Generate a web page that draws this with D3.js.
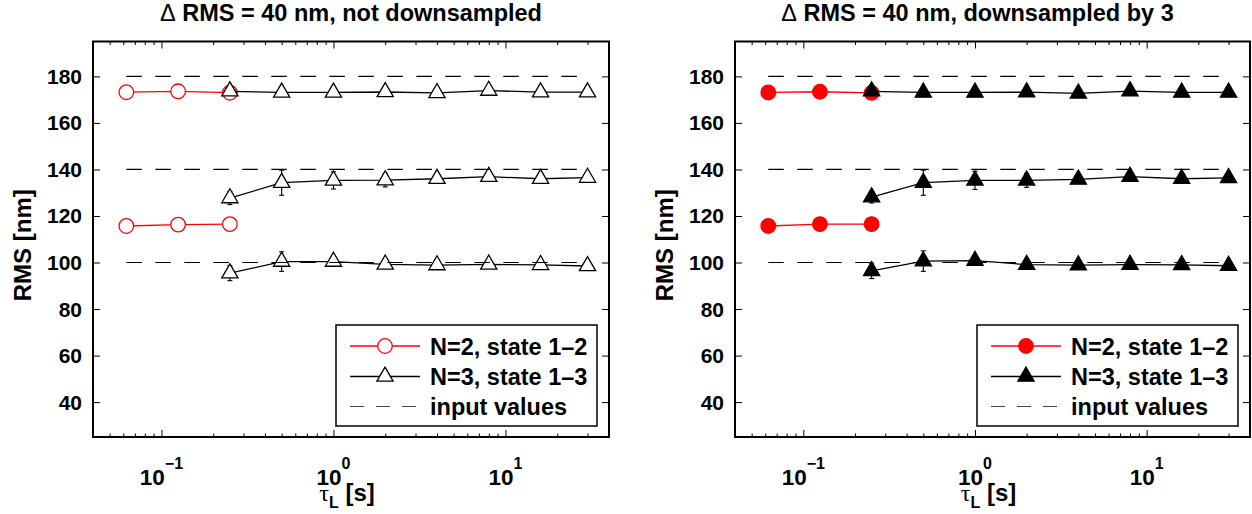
<!DOCTYPE html>
<html>
<head>
<meta charset="utf-8">
<script src="https://cdn.jsdelivr.net/npm/d3@7"></script>
<style>
  body { margin: 0; background: #fff; }
  svg { display: block; }
  text { font-family: "Liberation Sans", Arial, Helvetica, sans-serif; font-weight: bold; fill: #000; }
</style>
</head>
<body>
<svg id="chart" width="1252" height="514"></svg>
<script>
// ---- data -------------------------------------------------------------
const tauN2 = [0.0625, 0.125, 0.25];
const tauN3 = [0.25, 0.5, 1, 2, 4, 8, 16, 30];
const inputValues = [100, 140, 180];
const inputTauRange = [0.0625, 30];

// not downsampled
const rawN2Upper = [173.2, 173.6, 173.0];
const rawN2Lower = [115.7, 116.3, 116.5];
const rawN3Top = [173.6, 173.1, 173.1, 173.3, 172.9, 173.9, 173.2, 173.2];
const rawN3Mid = [127.7, 134.3, 135.3, 135.4, 136.0, 136.9, 136.0, 136.5];
const rawN3Bot = [95.4, 100.4, 100.4, 99.2, 98.9, 99.2, 99.0, 98.5];
const rawN3TopErr = [0.8, 0.8, 0.8, 0.6, 0.6, 0.6, 0.6, 0.6];
const rawN3MidErr = [2.8, 5.4, 3.7, 2.9, 1.5, 1.2, 1.2, 1.2];
const rawN3BotErr = [3.2, 4.2, 1.5, 1.0, 0.8, 0.8, 0.8, 0.8];

// downsampled by 3
const dsN2Upper = [173.1, 173.4, 172.9];
const dsN2Lower = [115.7, 116.5, 116.5];
const dsN3Top = [173.6, 173.1, 173.1, 173.2, 172.7, 173.7, 173.1, 173.1];
const dsN3Mid = [128.1, 134.3, 135.3, 135.3, 135.7, 136.9, 136.0, 136.4];
const dsN3Bot = [96.4, 100.6, 100.8, 99.1, 98.9, 99.1, 99.0, 98.6];
const dsN3TopErr = [0.8, 0.8, 0.8, 0.6, 0.6, 0.6, 0.6, 0.6];
const dsN3MidErr = [2.5, 5.4, 3.9, 3.0, 1.5, 1.2, 1.2, 1.2];
const dsN3BotErr = [3.3, 4.4, 1.5, 1.0, 0.8, 0.8, 0.8, 0.8];

const titles = ["not downsampled", "downsampled by 3"];
const legendLabels = ["N=2, state 1\u20132", "N=3, state 1\u20133", "input values"];
const yTicks = [40, 60, 80, 100, 120, 140, 160, 180];
const xMajorExps = [-1, 0, 1];
const xDomain = [0.04, 40];
const yDomain = [25, 195];

// ---- layout -----------------------------------------------------------
const svg = d3.select("#chart");
const plotTop = 41.5, plotBottom = 437;
const panels = [
  { x0: 93, x1: 609, titleDx: 0, title: titles[0], filled: false,
    n2: [rawN2Upper, rawN2Lower],
    n3: [[rawN3Top, rawN3TopErr], [rawN3Mid, rawN3MidErr], [rawN3Bot, rawN3BotErr]] },
  { x0: 735, x1: 1250, titleDx: -15, title: titles[1], filled: true,
    n2: [dsN2Upper, dsN2Lower],
    n3: [[dsN3Top, dsN3TopErr], [dsN3Mid, dsN3MidErr], [dsN3Bot, dsN3BotErr]] }
];

const red = "#ff0000";
const circleSym = d3.symbol().type(d3.symbolCircle).size(Math.PI * 7.3 * 7.3);
const triSym = d3.symbol().type(d3.symbolTriangle).size(114);

const minorTicks = [];
for (let e = -2; e <= 1; e++) {
  for (let m = 2; m <= 9; m++) {
    const v = m * Math.pow(10, e);
    if (v >= xDomain[0] && v <= xDomain[1]) minorTicks.push(v);
  }
}
const majorTicks = xMajorExps.map(e => Math.pow(10, e));

panels.forEach(p => {
  const x = d3.scaleLog().domain(xDomain).range([p.x0, p.x1]);
  const y = d3.scaleLinear().domain(yDomain).range([plotBottom, plotTop]);
  const g = svg.append("g");

  // ticks (inward, mirrored on all four sides)
  const tickStyle = sel => {
    sel.select(".domain").remove();
    sel.selectAll("text").remove();
    sel.selectAll("line").attr("stroke", "#000").attr("stroke-width", 1);
  };
  g.append("g").attr("transform", `translate(0,${plotBottom})`)
    .call(d3.axisBottom(x).tickValues(minorTicks).tickSizeInner(-3.5).tickSizeOuter(0)).call(tickStyle);
  g.append("g").attr("transform", `translate(0,${plotBottom})`)
    .call(d3.axisBottom(x).tickValues(majorTicks).tickSizeInner(-7).tickSizeOuter(0)).call(tickStyle);
  g.append("g").attr("transform", `translate(0,${plotTop})`)
    .call(d3.axisTop(x).tickValues(minorTicks).tickSizeInner(-3.5).tickSizeOuter(0)).call(tickStyle);
  g.append("g").attr("transform", `translate(0,${plotTop})`)
    .call(d3.axisTop(x).tickValues(majorTicks).tickSizeInner(-7).tickSizeOuter(0)).call(tickStyle);
  g.append("g").attr("transform", `translate(${p.x0},0)`)
    .call(d3.axisLeft(y).tickValues(yTicks).tickSizeInner(-7).tickSizeOuter(0)).call(tickStyle);
  g.append("g").attr("transform", `translate(${p.x1},0)`)
    .call(d3.axisRight(y).tickValues(yTicks).tickSizeInner(-7).tickSizeOuter(0)).call(tickStyle);

  // y tick labels
  g.selectAll(".ylab").data(yTicks).join("text")
    .attr("x", p.x0 - 11).attr("y", d => y(d) + 7.5)
    .attr("text-anchor", "end").attr("font-size", 21).text(d => d);

  // x tick labels 10^k
  xMajorExps.forEach(e => {
    const t = g.append("text").attr("x", x(Math.pow(10, e))).attr("y", 485)
      .attr("text-anchor", "middle").attr("font-size", 22.5);
    t.append("tspan").text("10");
    t.append("tspan").attr("font-size", 16).attr("dy", -16).text(e < 0 ? "\u2212" + (-e) : String(e));
  });

  // axis titles
  const xl = g.append("text").attr("x", (p.x0 + p.x1) / 2 - 4).attr("y", 501)
    .attr("text-anchor", "middle").attr("font-size", 24);
  xl.append("tspan").attr("font-weight", "normal").attr("font-family", "Liberation Serif, serif").text("\u03c4");
  xl.append("tspan").attr("font-size", 16).attr("dy", 7).text("L");
  xl.append("tspan").attr("dy", -7).text(" [s]");

  g.append("text")
    .attr("transform", `translate(${p.x0 - 62},${(plotTop + plotBottom) / 2 + 6}) rotate(-90)`)
    .attr("text-anchor", "middle").attr("font-size", 24).text("RMS [nm]");

  // panel title
  const tt = g.append("text").attr("x", (p.x0 + p.x1) / 2 + p.titleDx).attr("y", 21)
    .attr("text-anchor", "middle").attr("font-size", 23.5);
  tt.append("tspan").attr("font-weight", "normal").text("\u0394");
  tt.append("tspan").text(" RMS = 40 nm, " + p.title);

  // N=2 series (red circles)
  const line = d3.line().x(d => x(d[0])).y(d => y(d[1]));
  p.n2.forEach(vals => {
    const pts = tauN2.map((t, i) => [t, vals[i]]);
    g.append("path").attr("d", line(pts)).attr("fill", "none")
      .attr("stroke", red).attr("stroke-width", 1.3);
    g.selectAll(null).data(pts).join("path")
      .attr("d", circleSym).attr("transform", d => `translate(${x(d[0])},${y(d[1])})`)
      .attr("fill", p.filled ? red : "#fff").attr("stroke", red).attr("stroke-width", 1.3);
  });

  // N=3 series (black triangles with error bars)
  p.n3.forEach(([vals, errs]) => {
    const pts = tauN3.map((t, i) => [t, vals[i], errs[i]]);
    const eb = g.append("g").attr("stroke", "#000").attr("stroke-width", 1.1);
    pts.forEach(d => {
      const cx = x(d[0]);
      eb.append("line").attr("x1", cx).attr("x2", cx).attr("y1", y(d[1] - d[2])).attr("y2", y(d[1] + d[2]));
      eb.append("line").attr("x1", cx - 2.5).attr("x2", cx + 2.5).attr("y1", y(d[1] - d[2])).attr("y2", y(d[1] - d[2]));
      eb.append("line").attr("x1", cx - 2.5).attr("x2", cx + 2.5).attr("y1", y(d[1] + d[2])).attr("y2", y(d[1] + d[2]));
    });
    g.append("path").attr("d", line(pts)).attr("fill", "none")
      .attr("stroke", "#000").attr("stroke-width", 1.3);
    g.selectAll(null).data(pts).join("path")
      .attr("d", triSym).attr("transform", d => `translate(${x(d[0])},${y(d[1])})`)
      .attr("fill", p.filled ? "#000" : "#fff").attr("stroke", "#000").attr("stroke-width", 1.3);
  });

  // input values (dashed)
  inputValues.forEach(v => {
    g.append("line").attr("x1", x(inputTauRange[0])).attr("x2", x(inputTauRange[1]))
      .attr("y1", y(v)).attr("y2", y(v))
      .attr("stroke", "#000").attr("stroke-width", 1.2).attr("stroke-dasharray", "15.5,13.5");
  });

  // axes box
  g.append("rect").attr("x", p.x0).attr("y", plotTop).attr("width", p.x1 - p.x0).attr("height", plotBottom - plotTop)
    .attr("fill", "none").attr("stroke", "#000").attr("stroke-width", 2);

  // legend
  const lw = 261, lh = 101;
  const lx = p.x1 - 12 - lw, ly = plotBottom - 11 - lh;
  const lg = g.append("g").attr("transform", `translate(${lx},${ly})`);
  lg.append("rect").attr("width", lw).attr("height", lh).attr("fill", "#fff")
    .attr("stroke", "#000").attr("stroke-width", 1.5);
  const rows = [21, 51.5, 81.5];
  lg.append("line").attr("x1", 14).attr("x2", 84).attr("y1", rows[0]).attr("y2", rows[0])
    .attr("stroke", red).attr("stroke-width", 1.3);
  lg.append("path").attr("d", circleSym).attr("transform", `translate(49,${rows[0]})`)
    .attr("fill", p.filled ? red : "#fff").attr("stroke", red).attr("stroke-width", 1.3);
  lg.append("line").attr("x1", 14).attr("x2", 84).attr("y1", rows[1]).attr("y2", rows[1])
    .attr("stroke", "#000").attr("stroke-width", 1.3);
  lg.append("path").attr("d", triSym).attr("transform", `translate(49,${rows[1]})`)
    .attr("fill", p.filled ? "#000" : "#fff").attr("stroke", "#000").attr("stroke-width", 1.3);
  lg.append("line").attr("x1", 14).attr("x2", 84).attr("y1", rows[2]).attr("y2", rows[2])
    .attr("stroke", "#444").attr("stroke-width", 1.2).attr("stroke-dasharray", "14,12");
  legendLabels.forEach((l, i) => {
    lg.append("text").attr("x", 94).attr("y", rows[i] + 8.5).attr("font-size", 23.5).text(l);
  });
});
</script>
</body>
</html>
